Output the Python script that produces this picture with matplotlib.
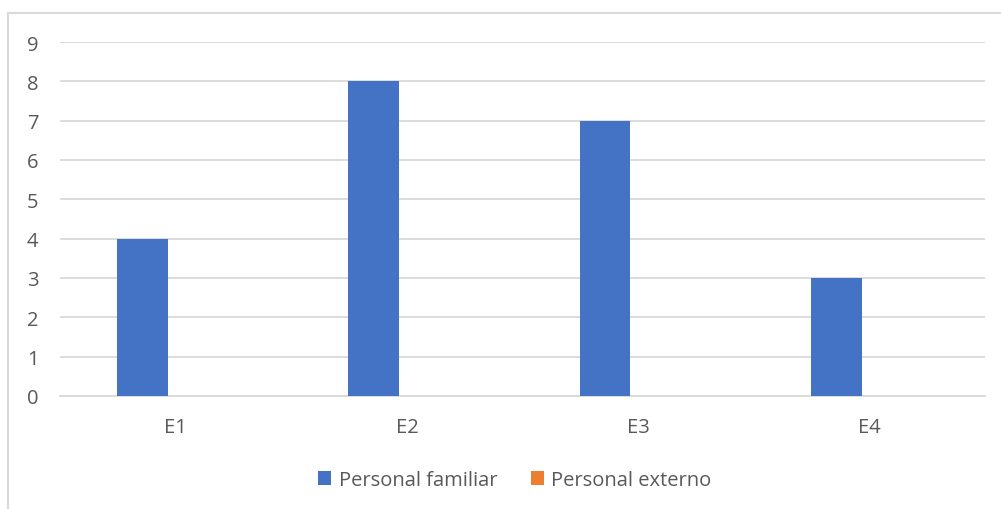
import numpy as np
import matplotlib.pyplot as plt
from matplotlib.lines import Line2D

plt.rcParams['font.family'] = ['Open Sans', 'DejaVu Sans']

categorias = ['E1', 'E2', 'E3', 'E4']
familiar = [4, 8, 7, 3]
externo = [0, 0, 0, 0]
yticks = list(range(0, 10))

azul = '#4472C4'
naranja = '#ED7D31'
gris_texto = '#595959'
gris_linea = '#D9D9D9'

W, H = 1001, 510
fig = plt.figure(figsize=(W / 100, H / 100), dpi=100)
ax = fig.add_axes([60 / W, 1 - 397 / H, (985 - 60) / W, (397 - 43) / H])

x = np.arange(len(categorias))
ancho = 0.22
desplaz = -0.143  # el grupo de barras queda corrido a la izquierda de la categoria
ax.bar(x + desplaz, familiar, ancho, color=azul, label='Personal familiar', zorder=3)
ax.bar(x + desplaz + ancho, externo, ancho, color=naranja, label='Personal externo', zorder=3)

ax.set_xlim(-0.5, len(categorias) - 0.5)
ax.set_ylim(0, 9)
ax.set_yticks(yticks)
ax.set_xticks(x)
ax.set_xticklabels(categorias)
ax.yaxis.grid(True, color=gris_linea, linewidth=1.3, zorder=0)
for s in ['top', 'right', 'left']:
    ax.spines[s].set_visible(False)
ax.spines['bottom'].set_color(gris_linea)
ax.spines['bottom'].set_linewidth(1.3)
ax.tick_params(length=0, labelsize=14.5, colors=gris_texto)
ax.tick_params(axis='y', pad=15.5)
ax.tick_params(axis='x', pad=15)

leg = fig.legend(loc='center', bbox_to_anchor=(515 / W, 1 - 481 / H), ncol=2,
                 frameon=False, fontsize=14.5, handlelength=0.65, handleheight=0.65,
                 handletextpad=0.35, columnspacing=1.7)
for t in leg.get_texts():
    t.set_color(gris_texto)

# marco del grafico
fig.add_artist(Line2D([8 / W, 8 / W], [0, 1 - 14 / H], color=gris_linea, linewidth=1.5))
fig.add_artist(Line2D([8 / W, 1], [1 - 14 / H, 1 - 14 / H], color=gris_linea, linewidth=1.5))

fig.savefig('out.png', dpi=100)
